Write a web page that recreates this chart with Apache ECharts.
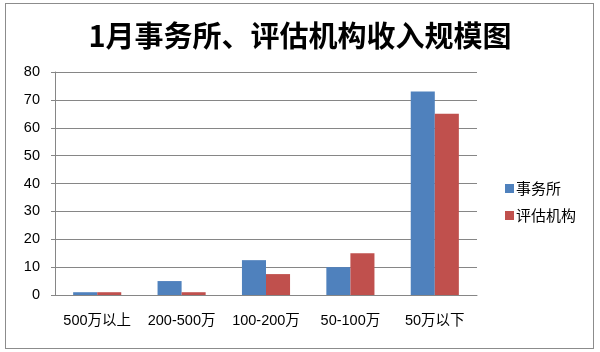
<!DOCTYPE html>
<html>
<head>
<meta charset="utf-8">
<script src="https://cdn.jsdelivr.net/npm/echarts@6/dist/echarts.min.js"></script>
<style>
  html, body { margin: 0; padding: 0; background: #fff; }
  #frame {
    position: absolute; left: 5px; top: 3px;
    width: 587px; height: 344px;
    border: 1px solid #8c8c8c;
  }
  #chart { position: absolute; left: 0; top: 0; width: 600px; height: 352px; }
</style>
</head>
<body>
<div id="frame"></div>
<div id="chart"></div>
<script>
const categories = ['500万以上', '200-500万', '100-200万', '50-100万', '50万以下']
const firmValues = [1, 5, 12.5, 10, 73]
const agencyValues = [1, 1, 7.5, 15, 65]
const yTicks = [0, 10, 20, 30, 40, 50, 60, 70, 80]

const chart = echarts.init(document.getElementById('chart'))

const option = {
  animation: false,
  title: {
    text: '1月事务所、评估机构收入规模图',
    left: 'center',
    top: 16,
    textStyle: {
      fontFamily: '"Noto Sans CJK SC", sans-serif',
      fontSize: 29,
      fontWeight: 'bold',
      color: '#000',
    },
  },
  legend: {
    orient: 'vertical',
    left: 500,
    top: 176,
    itemWidth: 9,
    itemHeight: 9,
    itemGap: 12,
    icon: 'rect',
    textStyle: {
      fontFamily: '"Noto Sans CJK SC", sans-serif',
      fontSize: 15,
      color: '#000',
      padding: [0, 0, 0, -3],
    },
  },
  grid: {
    left: 55,
    right: 123,
    top: 72,
    bottom: 57,
  },
  xAxis: {
    type: 'category',
    data: categories,
    axisLine: { lineStyle: { color: '#868686' } },
    axisTick: { show: false },
    axisLabel: {
      interval: 0,
      hideOverlap: false,
      color: '#000',
      fontSize: 14.5,
      margin: 19,
      fontFamily: '"Liberation Sans", "Noto Sans CJK SC", sans-serif',
    },
  },
  yAxis: {
    type: 'value',
    min: yTicks[0],
    max: yTicks[yTicks.length - 1],
    interval: 10,
    axisLine: { show: true, lineStyle: { color: '#868686' } },
    axisTick: { show: true, length: 4, lineStyle: { color: '#868686' } },
    axisLabel: {
      color: '#000',
      fontSize: 14.5,
      margin: 15,
      fontFamily: '"Liberation Sans", sans-serif',
    },
    splitLine: { lineStyle: { color: '#868686' } },
  },
  series: [
    {
      name: '事务所',
      type: 'bar',
      data: firmValues,
      barGap: '0%',
      barCategoryGap: '43%',
      itemStyle: { color: '#4F81BD' },
    },
    {
      name: '评估机构',
      type: 'bar',
      data: agencyValues,
      itemStyle: { color: '#C0504D' },
    },
  ],
}

chart.setOption(option)
window.addEventListener('resize', () => chart.resize())
</script>
</body>
</html>
